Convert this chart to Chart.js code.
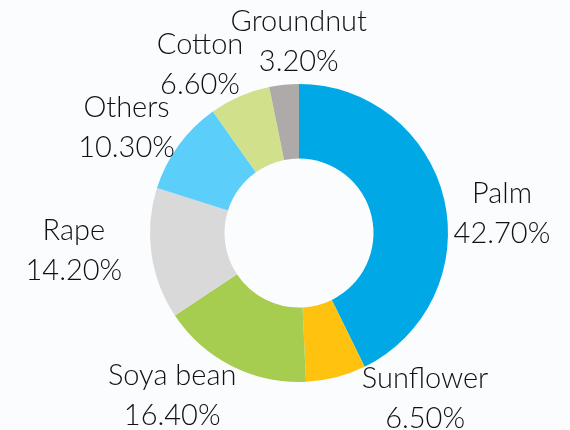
<!DOCTYPE html>
<html>
<head>
<meta charset="utf-8">
<script src="https://cdn.jsdelivr.net/npm/chart.js@4/dist/chart.umd.min.js"></script>
<style>
html,body{margin:0;padding:0;background:#fafcfe;}
#wrap{width:570px;height:430px;position:relative;}
</style>
</head>
<body>
<div id="wrap"><canvas id="c" width="570" height="430"></canvas></div>
<script>
const categories = ["Palm", "Sunflower", "Soya bean", "Rape", "Others", "Cotton", "Groundnut"];
const shares = [42.7, 6.5, 16.4, 14.2, 10.3, 6.6, 3.2];
const valueLabels = ["42.70%", "6.50%", "16.40%", "14.20%", "10.30%", "6.60%", "3.20%"];
const sliceColors = ["#00a8e6", "#ffc20e", "#a6cd4f", "#d9d9d9", "#5bcefa", "#d1e08b", "#aeaaaa"];

// label nudges relative to an anchor on the slice's mid-angle (pixels)
const labelNudge = [[7,25],[76,-30],[-36,-17],[-26,-11],[-10,13],[-19,16],[20,8]];

const outsideLabels = {
  id: 'outsideLabels',
  afterDatasetsDraw(chart) {
    const ctx = chart.ctx;
    const meta = chart.getDatasetMeta(0);
    ctx.save();
    ctx.font = '300 29px Lato';
    ctx.fillStyle = '#111111';
    ctx.textAlign = 'center';
    ctx.textBaseline = 'alphabetic';
    meta.data.forEach((arc, i) => {
      const p = arc.getProps(['x','y','startAngle','endAngle','outerRadius'], true);
      const mid = (p.startAngle + p.endAngle) / 2;
      const r = p.outerRadius * 1.35;
      const cx = p.x + Math.cos(mid) * r + labelNudge[i][0];
      const cy = p.y + Math.sin(mid) * r + labelNudge[i][1];
      ctx.fillText(categories[i], cx, cy - 10);
      ctx.fillText(valueLabels[i], cx, cy + 30);
    });
    ctx.restore();
  }
};

new Chart(document.getElementById('c'), {
  type: 'doughnut',
  data: {
    labels: categories,
    datasets: [{
      data: shares,
      backgroundColor: sliceColors,
      borderWidth: 0,
      hoverOffset: 0
    }]
  },
  options: {
    responsive: false,
    animation: false,
    cutout: '50%',
    layout: { padding: { left: 150, right: 122, top: 84, bottom: 48 } },
    plugins: {
      legend: { display: false },
      tooltip: { enabled: false }
    }
  },
  plugins: [outsideLabels]
});
</script>
</body>
</html>
